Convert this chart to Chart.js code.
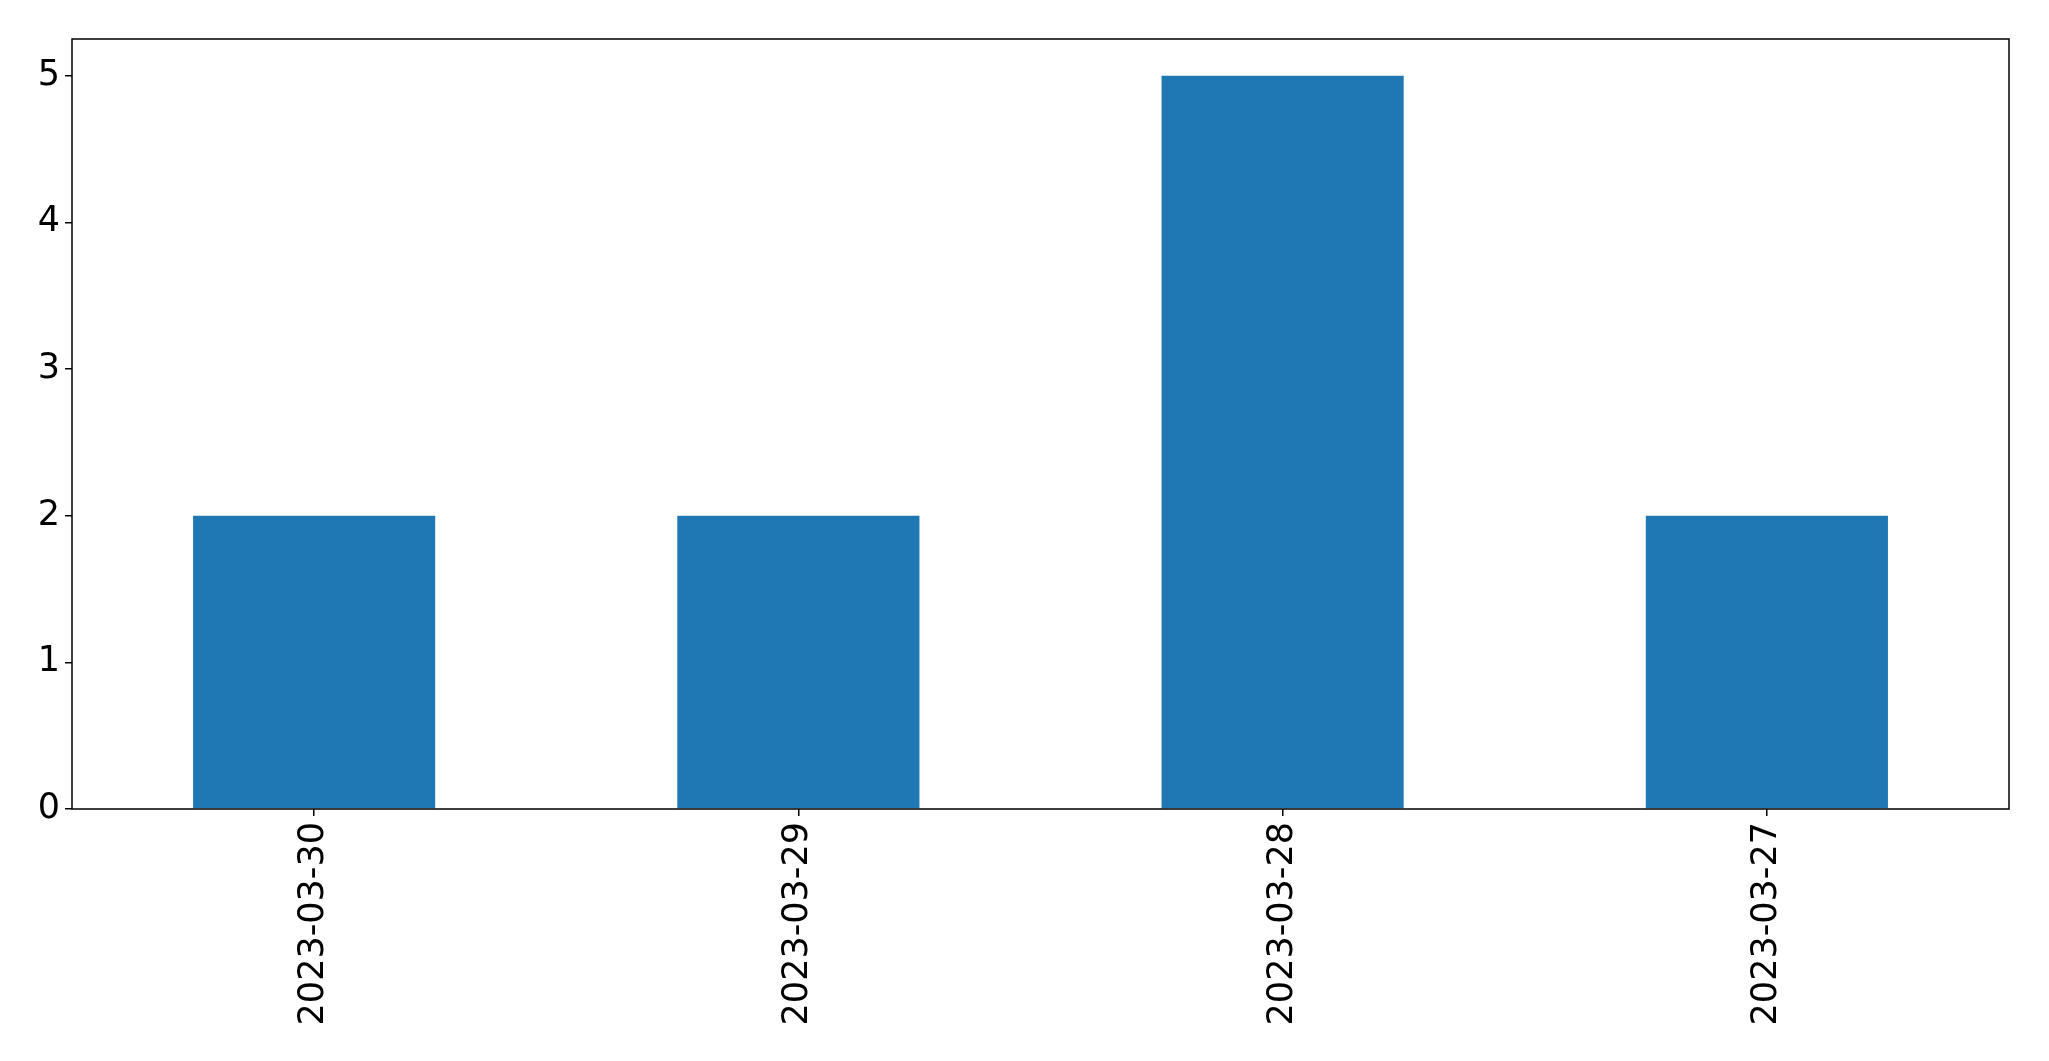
<!DOCTYPE html>
<html>
<head>
<meta charset="utf-8">
<script src="https://cdn.jsdelivr.net/npm/chart.js@4"></script>
<style>
  html, body { margin: 0; padding: 0; background: #fff; }
  #wrap { width: 2049px; height: 1061px; }
</style>
</head>
<body>
<div id="wrap"><canvas id="myChart"></canvas></div>
<script>
const dates = ['2023-03-30', '2023-03-29', '2023-03-28', '2023-03-27'];
const counts = [2, 2, 5, 2];

Chart.defaults.font.family = 'DejaVu Sans';
Chart.defaults.color = '#000';

// matplotlib-style frame around the plot area
const frame = {
    id: 'frame',
    afterDraw(chart) {
        const a = chart.chartArea;
        const c = chart.ctx;
        c.save();
        c.strokeStyle = '#000';
        c.lineWidth = 1.5;
        c.strokeRect(a.left, a.top, a.right - a.left, a.bottom - a.top);
        c.restore();
    }
};

const ctx = document.getElementById('myChart');

new Chart(ctx, {
    type: 'bar',
    data: {
        labels: dates,
        datasets: [{
            data: counts,
            backgroundColor: '#1f77b4',
            borderWidth: 0,
            barPercentage: 0.5,
            categoryPercentage: 1.0
        }]
    },
    options: {
        responsive: true,
        maintainAspectRatio: false,
        animation: false,
        layout: { padding: { top: 39, right: 40, left: 0, bottom: 0 } },
        plugins: {
            legend: { display: false },
            tooltip: { enabled: false }
        },
        scales: {
            x: {
                grid: { drawOnChartArea: false, offset: false, tickLength: 7, color: '#000', lineWidth: 1.5 },
                border: { display: false },
                ticks: { font: { size: 35 }, maxRotation: 90, minRotation: 90, padding: 6 },
                afterFit(scale) { scale.height = 1061 - 809; }
            },
            y: {
                min: 0,
                max: 5.25,
                grid: { drawOnChartArea: false, tickLength: 7, color: '#000', lineWidth: 1.5 },
                border: { display: false },
                ticks: { stepSize: 1, includeBounds: false, font: { size: 35 }, padding: 5 },
                afterFit(scale) { scale.width = 72; }
            }
        }
    },
    plugins: [frame]
});
</script>
</body>
</html>
